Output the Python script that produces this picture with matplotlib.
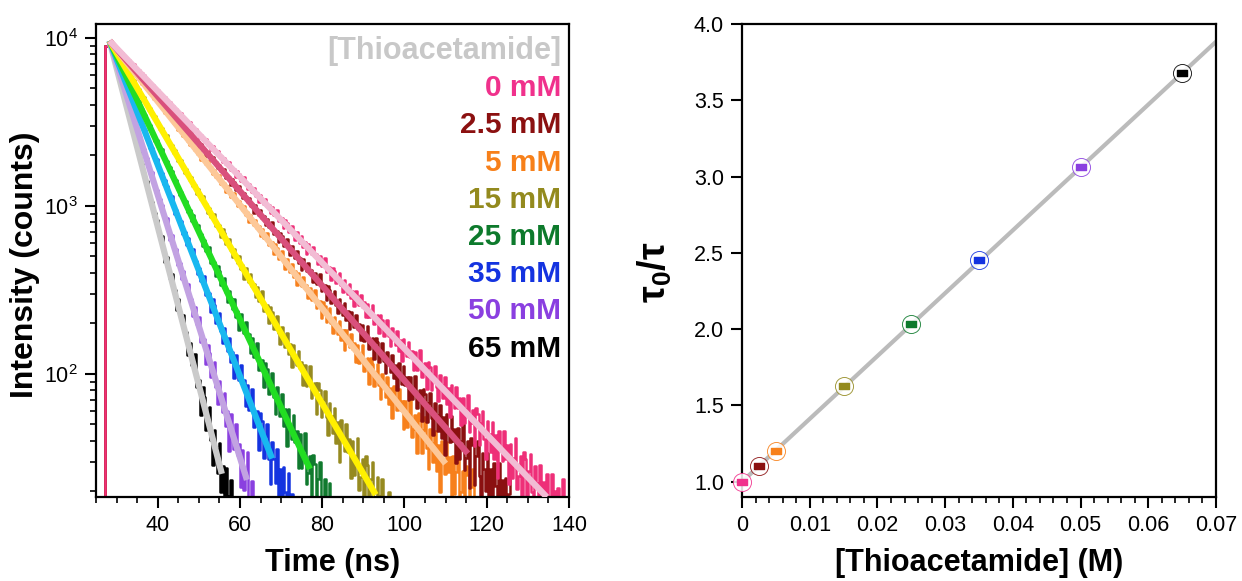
import numpy as np
import matplotlib
matplotlib.use("Agg")
import matplotlib.pyplot as plt
from matplotlib.ticker import MultipleLocator, LogLocator, FixedLocator, NullFormatter

plt.rcParams['font.family'] = ['Liberation Sans', 'DejaVu Sans']
plt.rcParams['mathtext.fontset'] = 'custom'
plt.rcParams['mathtext.rm'] = 'Liberation Sans'
plt.rcParams['mathtext.it'] = 'Liberation Sans:italic'
plt.rcParams['mathtext.bf'] = 'Liberation Sans:bold'

# ---------------- data ----------------
labels = ['0 mM', '2.5 mM', '5 mM', '15 mM', '25 mM', '35 mM', '50 mM', '65 mM']
conc_M = [0.0, 0.0025, 0.005, 0.015, 0.025, 0.035, 0.050, 0.065]
ratio = [1.00, 1.10, 1.20, 1.625, 2.035, 2.455, 3.065, 3.68]      # tau0/tau
lifetime_ns = [17.0, 15.4, 14.1, 10.4, 8.3, 6.9, 5.55, 4.6]       # fitted lifetimes
fit_end_ns = [134.6, 115.4, 110.0, 93.0, 77.0, 67.8, 61.7, 55.6]  # end of fit window
raw_end_ns = [140.0, 126.0, 117.0, 97.0, 85.0, 73.0, 63.5, 59.0]  # end of recorded trace
peak_counts = 9600.0
t_rise_ns = 27.2
t_peak_ns = 28.3
sv_slope = 41.2       # Stern-Volmer slope (M^-1)
sv_intercept = 1.0
# hand-typed residual pattern (units of sqrt(counts)) for the raw traces
residual = [0.9, -1.2, 0.4, 1.6, -0.5, -1.5, 1.1, 0.2, -0.8, 1.4, -1.0, 0.6,
            -1.7, 1.2, 0.0, -0.6, 1.5, -0.3, 0.7, -1.3, 1.0, -0.9, 0.3, 1.8,
            -1.1, -0.4, 0.8, -1.6, 1.3]

raw_colors = ['#ee2f78', '#8a1010', '#f7801c', '#968a20', '#107a2e', '#1434e0', '#8a40e0', '#000000']
fit_colors = ['#f2bcd4', '#d9507c', '#fdc898', '#fff000', '#22dd22', '#18b8f0', '#c2a2e2', '#cacaca']
text_colors = ['#f0318c', '#8b1010', '#f7801a', '#938a1e', '#0d7a2c', '#1433e0', '#8a3fe0', '#000000']

# ---------------- figure ----------------
fig = plt.figure(figsize=(12.42, 5.81), dpi=100)
W, H = 1242, 581
ax1 = fig.add_axes([96 / W, 1 - 497 / H, (569 - 96) / W, (497 - 24) / H])
ax2 = fig.add_axes([742 / W, 1 - 497 / H, (1216 - 742) / W, (497 - 24) / H])

# ---- left: decays ----
t = np.arange(25.0, 140.2, 0.4)
res = np.array(residual)
n = len(t)
for i in reversed(range(len(labels))):
    tau = lifetime_ns[i]
    model = peak_counts * np.exp(-(t - t_peak_ns) / tau)
    idx = (np.arange(n) + 3 * i) % len(res)
    raw = model + 1.3 * res[idx] * np.sqrt(model)
    raw = np.where(t < t_rise_ns, 3.0, raw)
    raw = np.where((t >= t_rise_ns) & (t < t_peak_ns), peak_counts * 0.93, raw)
    raw = np.clip(raw, 3.0, None)
    m = t <= raw_end_ns[i]
    ax1.plot(t[m], raw[m], color=raw_colors[i], lw=1.8, drawstyle='steps-mid', zorder=2)

for i in reversed(range(len(labels))):
    tau = lifetime_ns[i]
    tf = np.linspace(t_peak_ns, fit_end_ns[i], 200)
    ax1.plot(tf, peak_counts * np.exp(-(tf - t_peak_ns) / tau), color=fit_colors[i],
             lw=4.5, solid_capstyle='butt', zorder=3)

ax1.set_yscale('log')
ax1.set_xlim(25, 140)
ax1.set_ylim(18.5, 12100)
ax1.xaxis.set_major_locator(FixedLocator([40, 60, 80, 100, 120, 140]))
ax1.xaxis.set_minor_locator(MultipleLocator(5))
ax1.yaxis.set_major_locator(FixedLocator([1e2, 1e3, 1e4]))
ax1.set_yticklabels([r'$10^2$', r'$10^3$', r'$10^4$'])
ax1.yaxis.set_minor_locator(LogLocator(base=10, subs=np.arange(2, 10)))
ax1.yaxis.set_minor_formatter(NullFormatter())

fig.text(333 / W, 1 - 563 / H, 'Time (ns)', ha='center', va='center', fontsize=22, fontweight='bold')
fig.text(25 / W, 1 - 265 / H, 'Intensity (counts)', ha='center', va='center', rotation=90,
         fontsize=23, fontweight='bold')

# legend-like labels
y0 = 51
dy = 37.2
fig.text(561 / W, 1 - y0 / H, '[Thioacetamide]', ha='right', va='center', fontsize=22,
         fontweight='bold', color='#c8c8c8')
for i, lab in enumerate(labels):
    fig.text(561 / W, 1 - (y0 + dy * (i + 1)) / H, lab, ha='right', va='center', fontsize=21.5,
             fontweight='bold', color=text_colors[i])

# ---- right: Stern-Volmer ----
xl = np.array([0.0, 0.07])
ax2.plot(xl, sv_intercept + sv_slope * xl, color='#bbbbbb', lw=3, zorder=2)
rect = [(-1.6, -1), (1.6, -1), (1.6, 1), (-1.6, 1), (-1.6, -1)]
for i in range(len(conc_M)):
    ax2.plot(conc_M[i], ratio[i], marker='o', ms=13, mfc='white', mec=text_colors[i],
             mew=0.7, ls='none', zorder=3, alpha=0.85, clip_on=False)
    ax2.plot(conc_M[i], ratio[i], marker=rect, ms=7, color=text_colors[i], ls='none',
             zorder=4, clip_on=False)

ax2.set_xlim(0, 0.07)
ax2.set_ylim(0.9, 4.0)
ax2.xaxis.set_major_locator(FixedLocator([0, 0.01, 0.02, 0.03, 0.04, 0.05, 0.06, 0.07]))
ax2.set_xticklabels(['0', '0.01', '0.02', '0.03', '0.04', '0.05', '0.06', '0.07'])
ax2.xaxis.set_minor_locator(MultipleLocator(0.002))
ax2.set_yticks([1.0, 1.5, 2.0, 2.5, 3.0, 3.5, 4.0])
ax2.set_yticklabels(['1.0', '1.5', '2.0', '2.5', '3.0', '3.5', '4.0'])

fig.text(979 / W, 1 - 563 / H, '[Thioacetamide] (M)', ha='center', va='center', fontsize=22,
         fontweight='bold')
fig.text(655 / W, 1 - 272 / H, r'$\mathbf{\tau_0/\tau}$', ha='center', va='center', rotation=90,
         fontsize=27)

for ax in (ax1, ax2):
    for s in ax.spines.values():
        s.set_linewidth(1.6)
    ax.tick_params(which='both', direction='out', top=False, right=False, labelsize=15.5, width=1.5)
    ax.tick_params(which='major', length=8, pad=5)
    ax.tick_params(which='minor', length=4.5, width=1.2)

fig.savefig('out.png', dpi=100, facecolor='white')
